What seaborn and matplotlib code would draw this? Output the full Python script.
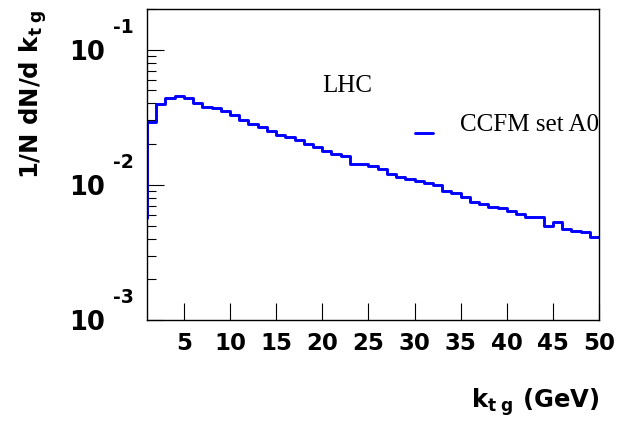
import numpy as np
import pandas as pd
import matplotlib
matplotlib.use("Agg")
import matplotlib.pyplot as plt
import matplotlib.ticker as mticker
import matplotlib.transforms as mtrans
import seaborn as sns

# ---- data ----
bin_low = list(range(0, 50))          # lower bin edges (GeV), width 1
bin_high_last = 50
dndkt = [0.0057, 0.0293, 0.0398, 0.0440, 0.0455, 0.0440, 0.0401, 0.0379, 0.0372, 0.0349,
         0.0328, 0.0301, 0.0284, 0.0269, 0.0251, 0.0234, 0.0225, 0.0214, 0.0201, 0.0190,
         0.0178, 0.0170, 0.0163, 0.0143, 0.0143, 0.0138, 0.0131, 0.0121, 0.0115, 0.0111,
         0.0106, 0.0103, 0.0100, 0.00908, 0.00867, 0.00809, 0.00747, 0.00722, 0.00690, 0.00675,
         0.00637, 0.00608, 0.00574, 0.00580, 0.00495, 0.00527, 0.00470, 0.00457, 0.00447, 0.00412]
x_ticks = [5, 10, 15, 20, 25, 30, 35, 40, 45, 50]
x_ticklabels = ["5", "10", "15", "20", "25", "30", "35", "40", "45", "50"]
y_ticks = [1e-3, 1e-2, 1e-1]
y_exponents = ["-3", "-2", "-1"]
series_label = "CCFM set A0"
title_text = "LHC"

sns.set_theme(style="white")
plt.rcParams["font.family"] = ["DejaVu Sans"]
plt.rcParams["mathtext.fontset"] = "dejavusans"
plt.rcParams["mathtext.default"] = "bf"
for k in ["text.color", "axes.labelcolor", "xtick.color", "ytick.color", "axes.edgecolor"]:
    plt.rcParams[k] = "black"

fig = plt.figure(figsize=(6.35, 4.3), dpi=100)
W, H = 635, 430
L, R, T, B = 147, 599, 9, 320
ax = fig.add_axes([L / W, 1 - B / H, (R - L) / W, (B - T) / H])

df = pd.DataFrame({"kt": bin_low + [bin_high_last],
                   "val": dndkt + [dndkt[-1]]})
sns.lineplot(data=df, x="kt", y="val", ax=ax, color="#0000ff", lw=2.1,
             drawstyle="steps-post", estimator=None, sort=False, label=series_label)

ax.set_yscale("log")
ax.set_xlim(1, 50)
ax.set_ylim(1e-3, 0.2)

for s in ax.spines.values():
    s.set_color("black")
    s.set_linewidth(1.0)

ax.set_xticks(x_ticks)
ax.set_xticklabels(x_ticklabels, fontsize=16.5, fontweight="bold")
ax.xaxis.set_minor_locator(mticker.NullLocator())
ax.tick_params(axis="x", which="major", direction="in", length=12.2, width=0.8,
               color="black", pad=8.5, bottom=True, top=False)

ax.set_yticks(y_ticks)
ax.set_yticklabels(["10"] * len(y_ticks), fontsize=18.5, fontweight="bold")
ax.yaxis.set_minor_locator(mticker.LogLocator(base=10, subs=np.arange(2, 10)))
ax.yaxis.set_minor_formatter(mticker.NullFormatter())
ax.tick_params(axis="y", which="major", direction="in", length=12.2, width=0.8,
               color="black", pad=30, left=True, right=False)
ax.tick_params(axis="y", which="minor", direction="in", length=6.5, width=0.8,
               color="black", left=True, right=False)

blend = mtrans.blended_transform_factory(ax.transAxes, ax.transData)
for v, e in zip(y_ticks, y_exponents):
    ax.annotate(e, xy=(0, v), xycoords=blend, xytext=(-24.5, 16), textcoords="offset points",
                ha="left", va="center", fontsize=13.5, fontweight="bold", annotation_clip=False)

ax.set_xlabel(r"k$_{t\ g}$ (GeV)", fontsize=17.5, fontweight="bold", loc="right")
ax.xaxis.set_label_coords(1.0, -(402 - B) / (B - T))
ax.xaxis.label.set_va("center")
ax.set_ylabel(r"1/N dN/d k$_{t\ g}$", fontsize=17.5, fontweight="bold", loc="top")
ax.yaxis.set_label_coords(-(L - 33) / (R - L), 1.0)
ax.yaxis.label.set_va("center")

ax.text((322 - L) / (R - L), (B - 92) / (B - T), title_text, transform=ax.transAxes,
        fontsize=18, family="Liberation Serif", ha="left", va="baseline")

leg = ax.legend(loc="center left", bbox_to_anchor=((415 - L) / (R - L), (B - 125) / (B - T)),
                frameon=False, borderpad=0, borderaxespad=0, handlelength=0.72,
                handletextpad=1.08, prop={"family": "Liberation Serif", "size": 18})
for ln in leg.get_lines():
    ln.set_linewidth(2.1)
    ln.set_ydata(np.asarray(ln.get_ydata(), dtype=float) - 7.5)

fig.savefig("out.png", dpi=100)
